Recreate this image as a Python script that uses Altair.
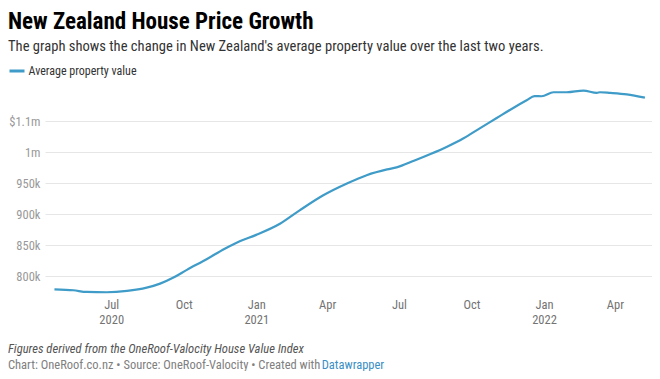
import altair as alt
import pandas as pd

FONT = "Roboto Condensed, Liberation Sans Narrow, Roboto, sans-serif"
LINE_COLOR = "#3f9bc7"

series_name = "Average property value"

dates = [
    "2020-04-20", "2020-05-14", "2020-05-31", "2020-06-25", "2020-07-21",
    "2020-08-15", "2020-09-01", "2020-09-18", "2020-10-05", "2020-10-30",
    "2020-11-22", "2020-12-11", "2021-01-01", "2021-01-31", "2021-02-25",
    "2021-03-27", "2021-04-26", "2021-05-21", "2021-06-16", "2021-06-28",
    "2021-07-20", "2021-08-10", "2021-08-31", "2021-09-21", "2021-10-12",
    "2021-11-02", "2021-11-23", "2021-12-10", "2021-12-20", "2021-12-29",
    "2022-01-13", "2022-01-30", "2022-02-20", "2022-03-09", "2022-03-13",
    "2022-03-26", "2022-04-16", "2022-05-09",
]
values = [
    779200, 777600, 774900, 774400, 776500,
    781800, 788300, 798100, 810500, 827600,
    844600, 856700, 866800, 884600, 906200,
    930500, 949500, 962900, 972200, 975400,
    986100, 997000, 1008800, 1022400, 1038700,
    1054900, 1071100, 1083400, 1090200, 1089900,
    1096400, 1096400, 1099100, 1095400, 1096400,
    1095400, 1093100, 1087800,
]

y_ticks = [800000, 850000, 900000, 950000, 1000000, 1050000]
x_ticks = [(2020, 7), (2020, 10), (2021, 1), (2021, 4), (2021, 7), (2021, 10), (2022, 1), (2022, 4)]

title_text = "New Zealand House Price Growth"
subtitle_text = "The graph shows the change in New Zealand's average property value over the last two years."
note_text = "Figures derived from the OneRoof-Valocity House Value Index"
credit_text = "Chart: OneRoof.co.nz • Source: OneRoof-Valocity • Created with "
credit_link = "Datawrapper"

df = pd.DataFrame({"date": dates, "value": values, "series": series_name})

W, H = 607, 205

line = alt.Chart(df).mark_line(strokeWidth=2.2, interpolate="monotone").encode(
    x=alt.X(
        "date:T",
        scale=alt.Scale(domain=[alt.DateTime(year=2020, month=4, date=8),
                                alt.DateTime(year=2022, month=5, date=18)]),
        axis=alt.Axis(
            values=[alt.DateTime(year=y, month=m, date=1) for y, m in x_ticks],
            labelExpr="(month(datum.value) == 0 || (year(datum.value) == 2020 && month(datum.value) == 6)) ? [timeFormat(datum.value, '%b'), timeFormat(datum.value, '%Y')] : timeFormat(datum.value, '%b')",
            grid=False, domain=False, ticks=False,
            labelFont=FONT, labelFontSize=12.5, labelColor="#737373",
            labelPadding=3, labelLineHeight=15, labelAngle=0,
            title=None,
        ),
    ),
    y=alt.Y(
        "value:Q",
        scale=alt.Scale(domain=[770000, 1100000], nice=False, zero=False),
        axis=alt.Axis(
            values=y_ticks,
            labelExpr="datum.value == 1050000 ? '$1.1m' : (datum.value == 1000000 ? '1m' : format(datum.value / 1000, 'd') + 'k')",
            domain=False, ticks=False,
            gridColor="#e6e6e6", gridWidth=1,
            labelFont=FONT, labelFontSize=12.5, labelColor="#999999",
            labelPadding=5,
            title=None,
        ),
    ),
    color=alt.Color(
        "series:N",
        scale=alt.Scale(domain=[series_name], range=[LINE_COLOR]),
        legend=alt.Legend(
            title=None, orient="none", legendX=-37, legendY=-28,
            symbolType="stroke", symbolSize=225, symbolStrokeWidth=3,
            labelFont=FONT, labelFontSize=12, labelColor="#333333",
            labelOffset=2.5, padding=0,
        ),
    ),
)

note = alt.Chart(alt.Data(values=[{"t": note_text}])).mark_text(
    align="left", baseline="middle", font=FONT, fontSize=12.6,
    fontStyle="italic", color="#555555",
).encode(x=alt.value(-37), y=alt.value(258.5), text="t:N")

credit = alt.Chart(alt.Data(values=[{"t": credit_text}])).mark_text(
    align="left", baseline="middle", font=FONT, fontSize=12.5, color="#808080",
).encode(x=alt.value(-37), y=alt.value(274.5), text="t:N")

link = alt.Chart(alt.Data(values=[{"t": credit_link}])).mark_text(
    align="left", baseline="middle", font=FONT, fontSize=12.5, color="#3c8fc5",
).encode(x=alt.value(276.7), y=alt.value(274.5), text="t:N")

chart = alt.layer(line, note, credit, link).properties(
    width=W, height=H,
    padding={"left": 37, "top": 82, "right": 0, "bottom": 76},
    autosize=alt.AutoSizeParams(type="none"),
    title=alt.TitleParams(
        text=title_text, subtitle=subtitle_text,
        anchor="start", offset=8,
        font=FONT, fontSize=23, fontWeight="bold", color="#000000",
        subtitleFont=FONT, subtitleFontSize=14.6, subtitleColor="#333333",
        subtitlePadding=5.5,
    ),
).configure_view(stroke=None)

chart.save("out.html", embed_options={"renderer": "svg", "actions": False})
